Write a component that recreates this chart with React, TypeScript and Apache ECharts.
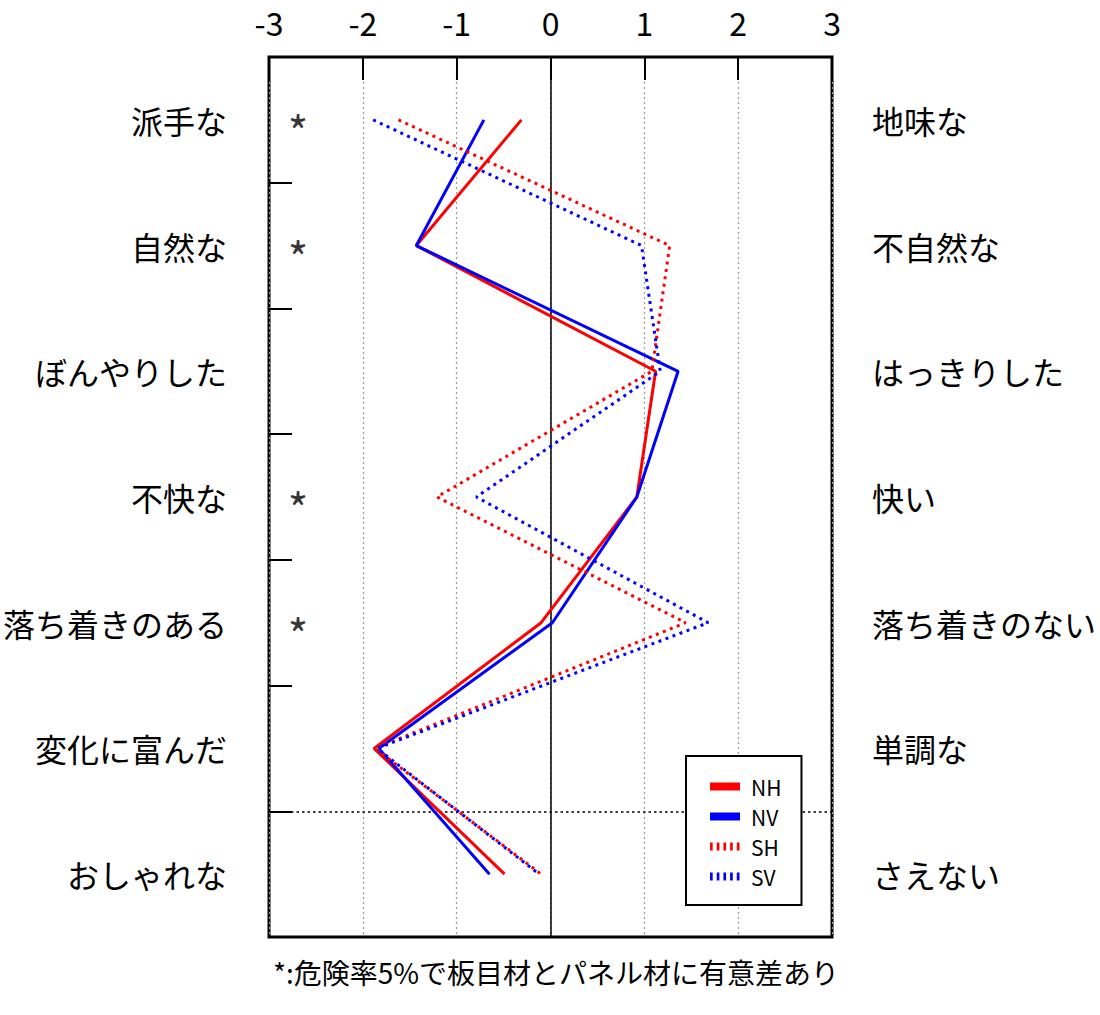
import React, { useEffect, useRef } from "react";
import * as echarts from "echarts";

const leftLabels = ["派手な", "自然な", "ぼんやりした", "不快な", "落ち着きのある", "変化に富んだ", "おしゃれな"];
const rightLabels = ["地味な", "不自然な", "はっきりした", "快い", "落ち着きのない", "単調な", "さえない"];
const xTicks = [-3, -2, -1, 0, 1, 2, 3];

const nhValues = [-0.31, -1.43, 1.12, 0.92, -0.1, -1.88, -0.49];
const nvValues = [-0.71, -1.43, 1.36, 0.92, 0.02, -1.83, -0.65];
const shValues = [-1.62, 1.27, 1.08, -1.21, 1.44, -1.87, -0.1];
const svValues = [-1.89, 0.97, 1.17, -0.79, 1.68, -1.85, -0.12];

const significantRows = [0, 1, 3, 4];
const starX = -2.69;
const dividerRow = 6; // boundary between 変化に富んだ and おしゃれな
const caption = "*:危険率5%で板目材とパネル材に有意差あり";

const FONT = "'Noto Sans CJK JP', 'Noto Sans', sans-serif";
const DOT = [3, 4.5];

export default function App() {
  const ref = useRef<HTMLDivElement>(null);
  useEffect(() => {
    if (!ref.current) return;
    const chart = echarts.init(ref.current, undefined, { renderer: "svg" });
    const mk = (name: string, vals: number[], color: string, dotted: boolean) => ({
      name,
      type: "line",
      xAxisIndex: 0,
      yAxisIndex: 0,
      symbol: "none",
      data: vals.map((v, i) => [v, i]),
      lineStyle: { color, width: 3, type: dotted ? DOT : "solid" },
      itemStyle: { color },
      z: 3,
    });
    chart.setOption({
      animation: false,
      textStyle: { fontFamily: FONT },
      grid: {
        left: 266,
        right: 268,
        top: 57,
        bottom: 78,
        show: true,
        borderColor: "#000",
        borderWidth: 3,
        backgroundColor: "transparent",
      },
      xAxis: {
        type: "value",
        position: "top",
        min: xTicks[0],
        max: xTicks[xTicks.length - 1],
        interval: 1,
        axisLine: { show: false, onZero: false },
        axisTick: { show: true, inside: true, length: 23, lineStyle: { color: "#000", width: 2 } },
        axisLabel: { fontSize: 32, lineHeight: 32, color: "#000", margin: 19, fontFamily: FONT },
        splitLine: { show: true, lineStyle: { color: "#999", width: 1.2, type: [2, 3] } },
      },
      yAxis: [
        {
          type: "category",
          data: leftLabels,
          inverse: true,
          position: "left",
          axisLine: { show: false, onZero: false },
          axisTick: { show: true, inside: true, length: 23, lineStyle: { color: "#000", width: 2 } },
          axisLabel: { fontSize: 32, color: "#000", margin: 42, fontFamily: FONT },
          splitLine: { show: false },
        },
        {
          type: "category",
          data: rightLabels,
          inverse: true,
          position: "right",
          axisLine: { show: false, onZero: false },
          axisTick: { show: false },
          axisLabel: { fontSize: 32, color: "#000", margin: 40, fontFamily: FONT },
          splitLine: { show: false },
        },
        {
          type: "value",
          min: 0,
          max: leftLabels.length,
          inverse: true,
          show: false,
          axisLine: { onZero: false },
        },
      ],
      legend: {
        left: 686,
        top: 756,
        z: 20,
        orient: "vertical",
        itemWidth: 30,
        itemHeight: 8,
        itemGap: 9,
        padding: [20, 20, 18, 20],
        borderColor: "#000",
        borderWidth: 2,
        backgroundColor: "#fff",
        textStyle: { fontSize: 21, color: "#000", fontFamily: FONT, lineHeight: 21, padding: [0, 0, 0, 6] },
        lineStyle: { width: 8 },
        itemStyle: { opacity: 0 },
        data: [
          { name: "NH", lineStyle: { width: 8, type: "solid" } },
          { name: "NV", lineStyle: { width: 8, type: "solid" } },
          { name: "SH", lineStyle: { width: 8, type: [2.7, 4] } },
          { name: "SV", lineStyle: { width: 8, type: [2.7, 4] } },
        ],
      },
      series: [
        {
          type: "line",
          xAxisIndex: 0,
          yAxisIndex: 2,
          data: [],
          silent: true,
          z: 1,
          markLine: {
            silent: true,
            symbol: "none",
            z: 1,
            label: { show: false },
            data: [
              { xAxis: 0, lineStyle: { color: "#000", width: 1.5, type: "solid" } },
              { yAxis: dividerRow, lineStyle: { color: "#000", width: 1.5, type: [2.5, 3] } },
            ],
          },
        },
        mk("NH", nhValues, "#ff0000", false),
        mk("NV", nvValues, "#0000ff", false),
        mk("SH", shValues, "#ff0000", true),
        mk("SV", svValues, "#0000ff", true),
        {
          type: "scatter",
          xAxisIndex: 0,
          yAxisIndex: 0,
          silent: true,
          symbol: "circle",
          symbolSize: 1,
          itemStyle: { color: "transparent" },
          data: significantRows.map((r) => [starX, r]),
          label: {
            show: true,
            position: "inside",
            formatter: "*",
            fontSize: 44,
            color: "#000",
            offset: [0, 10],
            fontFamily: FONT,
          },
        },
      ],
      graphic: [
        {
          type: "text",
          x: 556,
          y: 972,
          style: {
            text: caption,
            fontSize: 28,
            fontFamily: FONT,
            fill: "#000",
            align: "center",
            verticalAlign: "middle",
          },
        },
      ],
    });
    return () => chart.dispose();
  }, []);
  return (
    <div
      ref={ref}
      style={{ position: "fixed", left: 0, top: 0, width: 1100, height: 1015, background: "#fff" }}
    />
  );
}
